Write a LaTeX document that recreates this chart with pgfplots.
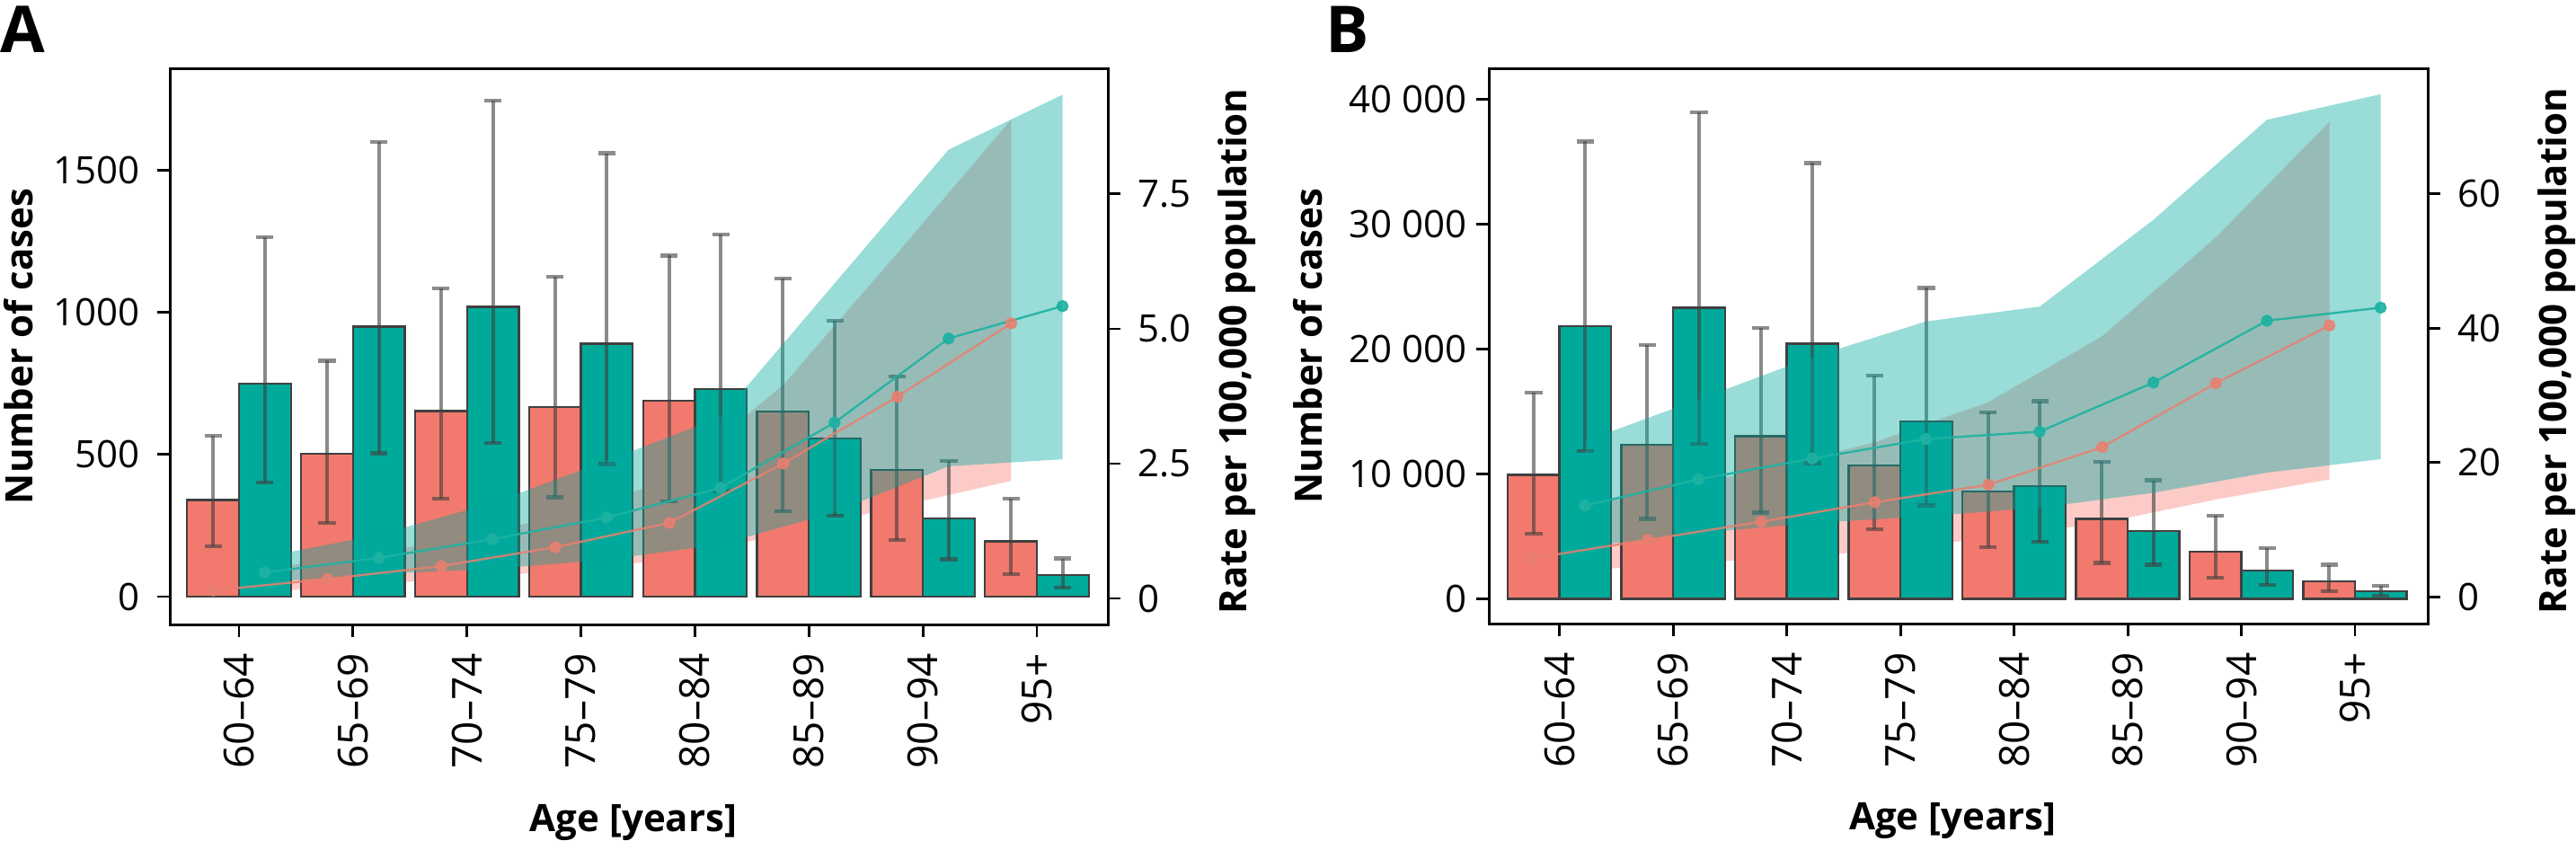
\documentclass[border=0pt]{standalone}
\usepackage{fontspec}
\setmainfont{Open Sans}
\usepackage{pgfplots}
\usepackage{pgfplotstable}
\pgfplotsset{compat=1.18}

\definecolor{cred}{RGB}{242,121,109}
\definecolor{cteal}{RGB}{0,170,154}
\definecolor{ribred}{RGB}{248,118,109}
\definecolor{ribteal}{RGB}{0,168,158}
\definecolor{lred}{RGB}{232,128,112}
\definecolor{lteal}{RGB}{30,178,162}

\pgfplotstableread{
x red rlo rhi teal tlo thi
0 340 178 566 750 402 1265
1 503 260 830 950 504 1600
2 653 345 1085 1020 540 1745
3 668 350 1125 890 466 1560
4 689 335 1200 730 371 1275
5 651 300 1120 556 284 970
6 445 199 775 276 131 478
7 194 79 345 76 32 134
}\casesA

\pgfplotstableread{
x red rlo rhi teal tlo thi
0 9935 5227 16487 21835 11843 36617
1 12340 6407 20302 23305 12426 38934
2 13017 6904 21691 20425 10871 34882
3 10670 5580 17876 14190 7495 24889
4 8611 4140 14924 9050 4586 15810
5 6407 2880 10965 5435 2736 9489
6 3765 1706 6645 2290 1116 4053
7 1411 620 2736 620 238 1058
}\casesB

\pgfplotsset{
  panelA/.style={at={(47.375pt,60pt)}, anchor=south west, width=260.875pt, height=154.75pt, xmin=-0.603, xmax=7.623},
  panelB/.style={at={(414.25pt,60.25pt)}, anchor=south west, width=261.25pt, height=154.5pt, xmin=-0.622, xmax=7.640},
  common/.style={scale only axis, clip=true, tick align=outside, major tick length=3.6pt,
    scaled y ticks=false, scaled x ticks=false,
    axis line style={line width=0.75pt, black},
    every tick/.style={line width=0.7pt, black},
    label style={font=\bfseries\fontsize{10.5}{12}\selectfont, inner sep=0pt}},
  hidden/.style={scale only axis, clip=true, hide axis},
  leftax/.style={common, ytick pos=left, xtick pos=left,
    xtick={0,1,2,3,4,5,6,7},
    xticklabels={60--64,65--69,70--74,75--79,80--84,85--89,90--94,95+},
    xticklabel style={yshift=-4.3pt, rotate=90, anchor=east, inner sep=0pt, font=\fontsize{11.5}{13}\selectfont},
    yticklabel style={anchor=east, inner sep=0pt, font=\fontsize{10.5}{12}\selectfont},
    xlabel={Age [years]},
    xlabel style={at={(axis description cs:0.494,-0.3716)}, anchor=base},
    ylabel={Number of cases}},
  rightax/.style={common, axis y line*=right, axis x line=none, ytick pos=right,
    yticklabel style={xshift=4.6pt, anchor=west, inner sep=0pt, font=\fontsize{10.5}{12}\selectfont},
    ylabel={Rate per 100,000 population},
    ylabel style={at={(axis description cs:1.1476,0.491)}, anchor=base}},
  barbase/.style={ybar, bar width=0.455, bar shift=0pt, draw=black!75, line width=0.6pt,
    error bars/.cd, y dir=both, y explicit,
    error bar style={line width=1pt, black!75, opacity=0.6},
    error mark=|, error mark options={mark size=2.4pt, line width=1.1pt, black!75, opacity=0.6}},
  barR/.style={fill=cred, barbase},
  barT/.style={fill=cteal, barbase},
  ribR/.style={fill=ribred, fill opacity=0.38, draw=none},
  ribT/.style={fill=ribteal, fill opacity=0.40, draw=none},
  lineR/.style={lred, line width=0.6pt, opacity=0.85, mark=*, mark size=1.4pt, mark options={solid}},
  lineT/.style={lteal, line width=0.6pt, opacity=0.9, mark=*, mark size=1.4pt, mark options={solid}},
}

\begin{document}
\begin{tikzpicture}
\useasboundingbox (0pt,0pt) rectangle (716.75pt,233.75pt);

% ================= Panel A =================
\begin{axis}[panelA, hidden, ymin=-0.483, ymax=9.83]
\addplot[ribR] coordinates {(-0.225,0.05) (0.775,0.20) (1.775,0.35) (2.775,0.50) (3.775,0.72) (4.775,1.20) (5.775,1.70) (6.775,2.18)
 (6.775,8.88) (5.775,6.40) (4.775,3.96) (3.775,2.20) (2.775,1.50) (1.775,1.05) (0.775,0.70) (-0.225,0.45)} -- cycle;
\end{axis}

\begin{axis}[panelA, leftax, ymin=-98, ymax=1859,
  ytick={0,500,1000,1500}, yticklabels={0,500,1000,1500},
  yticklabel style={xshift=-4.6pt},
  ylabel style={at={(axis description cs:-0.1464,0.5)}, anchor=base}]
\addplot[barR] table[x expr=\thisrow{x}-0.2275, y=red, y error plus expr=\thisrow{rhi}-\thisrow{red}, y error minus expr=\thisrow{red}-\thisrow{rlo}] {\casesA};
\addplot[barT] table[x expr=\thisrow{x}+0.2275, y=teal, y error plus expr=\thisrow{thi}-\thisrow{teal}, y error minus expr=\thisrow{teal}-\thisrow{tlo}] {\casesA};
\end{axis}

\begin{axis}[panelA, rightax, ymin=-0.483, ymax=9.83,
  ytick={0,2.5,5,7.5}, yticklabels={0,2.5,5.0,7.5}]
\addplot[ribT] coordinates {(0.225,0.30) (1.225,0.45) (2.225,0.55) (3.225,0.72) (4.225,1.00) (5.225,1.60) (6.225,2.45) (7.225,2.58)
 (7.225,9.34) (6.225,8.32) (5.225,5.84) (4.225,3.36) (3.225,2.55) (2.225,1.77) (1.225,1.18) (0.225,0.77)} -- cycle;
\addplot[lineR] coordinates {(-0.225,0.15) (0.775,0.36) (1.775,0.60) (2.775,0.95) (3.775,1.40) (4.775,2.50) (5.775,3.74) (6.775,5.10)};
\addplot[lineT] coordinates {(0.225,0.48) (1.225,0.75) (2.225,1.10) (3.225,1.50) (4.225,2.05) (5.225,3.26) (6.225,4.82) (7.225,5.42)};
\end{axis}

% ================= Panel B =================
\begin{axis}[panelB, hidden, ymin=-3.96, ymax=78.66]
\addplot[ribR] coordinates {(-0.225,3.5) (0.775,4.6) (1.775,5.7) (2.775,6.8) (3.775,8.8) (4.775,11.0) (5.775,14.5) (6.775,17.5)
 (6.775,70.7) (5.775,53.5) (4.775,38.8) (3.775,29.0) (2.775,23.0) (1.775,18.8) (0.775,15.5) (-0.225,12.5)} -- cycle;
\end{axis}

\begin{axis}[panelB, leftax, ymin=-1973, ymax=42463,
  ytick={0,10000,20000,30000,40000}, yticklabels={0,10 000,20 000,30 000,40 000},
  yticklabel style={xshift=-2.4pt},
  ylabel style={at={(axis description cs:-0.178,0.5)}, anchor=base}]
\addplot[barR] table[x expr=\thisrow{x}-0.2275, y=red, y error plus expr=\thisrow{rhi}-\thisrow{red}, y error minus expr=\thisrow{red}-\thisrow{rlo}] {\casesB};
\addplot[barT] table[x expr=\thisrow{x}+0.2275, y=teal, y error plus expr=\thisrow{thi}-\thisrow{teal}, y error minus expr=\thisrow{teal}-\thisrow{tlo}] {\casesB};
\end{axis}

\begin{axis}[panelB, rightax, ymin=-3.96, ymax=78.66,
  ytick={0,20,40,60}, yticklabels={0,20,40,60},
  ylabel style={at={(axis description cs:1.1474,0.491)}, anchor=base}]
\addplot[ribT] coordinates {(0.225,7.5) (1.225,9.5) (2.225,11.0) (3.225,12.0) (4.225,13.3) (5.225,15.5) (6.225,18.5) (7.225,20.5)
 (7.225,74.8) (6.225,71.0) (5.225,56.1) (4.225,43.2) (3.225,41.0) (2.225,35.7) (1.225,29.4) (0.225,23.2)} -- cycle;
\addplot[lineR] coordinates {(-0.225,5.8) (0.775,8.5) (1.775,11.2) (2.775,14.1) (3.775,16.7) (4.775,22.3) (5.775,31.8) (6.775,40.4)};
\addplot[lineT] coordinates {(0.225,13.6) (1.225,17.5) (2.225,20.6) (3.225,23.5) (4.225,24.6) (5.225,31.9) (6.225,41.1) (7.225,43.05)};
\end{axis}

% panel letters
\node[anchor=base west, inner sep=0pt, font=\bfseries\fontsize{18}{20}\selectfont] at (0pt,219.2pt) {A};
\node[anchor=base west, inner sep=0pt, font=\bfseries\fontsize{18}{20}\selectfont] at (368.75pt,219.2pt) {B};
\end{tikzpicture}
\end{document}
